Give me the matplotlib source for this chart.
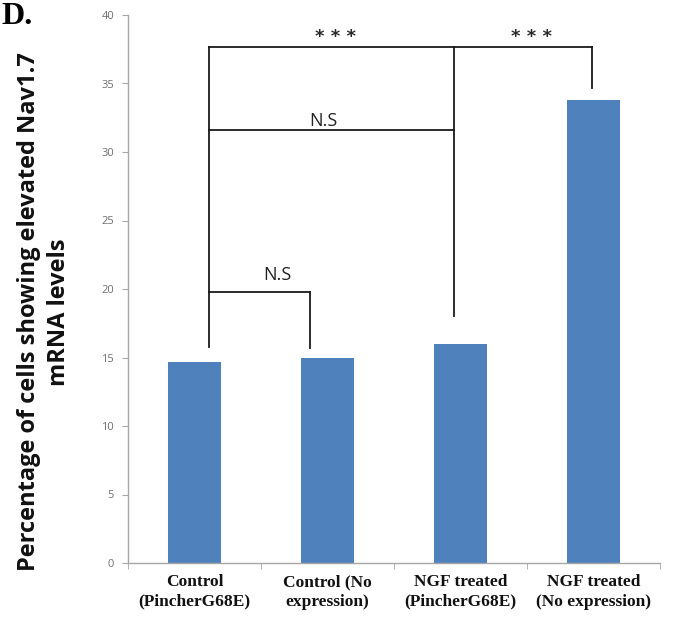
import matplotlib
matplotlib.use("Agg")
import matplotlib.pyplot as plt
import numpy as np

categories = ["Control\n(PincherG68E)", "Control (No\nexpression)",
              "NGF treated\n(PincherG68E)", "NGF treated\n(No expression)"]
values = [14.7, 15.0, 16.0, 33.8]
yticks = [0, 5, 10, 15, 20, 25, 30, 35, 40]

top_bracket_x = [0.11, 1.95, 2.99]
top_bracket_y = 37.7
top_bracket_bottoms = [15.8, 18.0, 34.7]
top_labels = ["* * *", "* * *"]
top_label_x = [1.06, 2.535]

ns_upper = dict(x0=0.11, x1=1.95, y=31.6, label="N.S", lx=0.97, ly=31.6)
ns_lower = dict(x0=0.11, x1=0.87, y=19.8, yb1=15.7, label="N.S", lx=0.62, ly=20.4)

fig = plt.figure(figsize=(6.76, 6.23), dpi=100)
ax = fig.add_axes([128/676, 1-563/623, (660-128)/676, (563-15)/623])

x = np.arange(len(categories))
ax.bar(x, values, width=0.4, color="#4F81BD", zorder=2)

ax.set_xlim(-0.5, 3.5)
ax.set_ylim(0, 40)
ax.set_yticks(yticks)
ax.set_yticklabels([str(v) for v in yticks], fontsize=8, color="#707070", family="Open Sans")
ax.set_xticks(x)
ax.set_xticklabels(categories, fontsize=12.5, fontweight="bold", family="Liberation Serif",
                   color="#111111", linespacing=1.3)
ax.set_xticks(np.arange(-0.5, 4.0, 1.0), minor=True)
ax.tick_params(axis="x", which="major", length=0, pad=8)
ax.tick_params(axis="x", which="minor", length=4, color="#A6A6A6", direction="out")
ax.tick_params(axis="y", length=4, color="#A6A6A6", direction="out", pad=6)

for s in ["top", "right"]:
    ax.spines[s].set_visible(False)
for s in ["left", "bottom"]:
    ax.spines[s].set_color("#A6A6A6")
    ax.spines[s].set_linewidth(1.0)

lc = "#1a1a1a"
lw = 1.3
ax.plot([top_bracket_x[0], top_bracket_x[2]], [top_bracket_y, top_bracket_y], color=lc, lw=lw, clip_on=False)
for bx, bb in zip(top_bracket_x, top_bracket_bottoms):
    ax.plot([bx, bx], [bb, top_bracket_y], color=lc, lw=lw, clip_on=False)
for lab, lx in zip(top_labels, top_label_x):
    ax.text(lx, top_bracket_y + 0.05, lab, ha="center", va="bottom", fontsize=13,
            fontweight="bold", color="#2a2a2a", family="DejaVu Sans")

ax.plot([ns_upper["x0"], ns_upper["x1"]], [ns_upper["y"], ns_upper["y"]], color=lc, lw=lw)
ax.text(ns_upper["lx"], ns_upper["ly"], ns_upper["label"], ha="center", va="bottom",
        fontsize=13, family="Open Sans", color="#222222")

ax.plot([ns_lower["x0"], ns_lower["x1"]], [ns_lower["y"], ns_lower["y"]], color=lc, lw=lw)
ax.plot([ns_lower["x1"], ns_lower["x1"]], [ns_lower["yb1"], ns_lower["y"]], color=lc, lw=lw)
ax.text(ns_lower["lx"], ns_lower["ly"], ns_lower["label"], ha="center", va="bottom",
        fontsize=13, family="Open Sans", color="#222222")

fig.text(44/676, 1-312/623, "Percentage of cells showing elevated Nav1.7\nmRNA levels",
         rotation=90, ha="center", va="center", fontsize=17, fontweight="bold",
         family="Open Sans", linespacing=1.35, color="#111111")

fig.text(0.002, 0.962, "D.", fontsize=23, fontweight="bold", family="Liberation Serif",
         ha="left", va="baseline")

fig.savefig("out.png", dpi=100)
